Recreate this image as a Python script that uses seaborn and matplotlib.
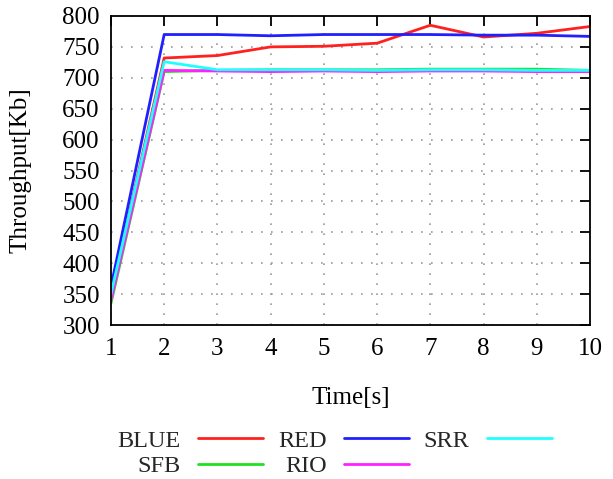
import matplotlib
matplotlib.use("Agg")
import matplotlib.pyplot as plt
import seaborn as sns
import pandas as pd
import numpy as np

time_s = [1, 2, 3, 4, 5, 6, 7, 8, 9, 10]
blue_vals = [350, 732, 736, 750, 751, 756, 785, 766, 772, 783]
red_vals = [362, 770, 770, 768, 770, 770, 770, 769, 769, 767]
srr_vals = [350, 726, 713, 713, 713, 712, 713, 713, 712, 712]
sfb_vals = [335, 710, 712, 713, 713, 713, 714, 714, 714, 712]
rio_vals = [340, 712, 711, 710, 711, 710, 711, 711, 710, 710]

series_names = ["BLUE", "SFB", "RED", "RIO", "SRR"]
series_vals = {"BLUE": blue_vals, "RED": red_vals, "SRR": srr_vals,
               "SFB": sfb_vals, "RIO": rio_vals}
palette = {"BLUE": "#ff2020", "RED": "#2020ff", "SRR": "#20ffff",
           "SFB": "#20e020", "RIO": "#ff20ff"}

rows = []
for name in series_names:
    for t, v in zip(time_s, series_vals[name]):
        rows.append({"Time": t, "Throughput": v, "Series": name})
df = pd.DataFrame(rows)

sns.set_theme(style="white")
plt.rcParams["font.family"] = ["Liberation Serif", "DejaVu Serif"]

fig = plt.figure(figsize=(6.13, 4.79), dpi=100)
ax = fig.add_axes([0.181, 0.3215, 0.7815, 0.6451])

draw_order = ["BLUE", "RED", "SFB", "RIO", "SRR"]
for name in draw_order:
    sub = df[df["Series"] == name]
    sns.lineplot(data=sub, x="Time", y="Throughput", color=palette[name],
                 linewidth=2.0, ax=ax, label=name, legend=False)

ax.set_xlim(1, 10)
ax.set_ylim(300, 800)
ax.set_xticks(time_s)
ax.set_yticks(np.arange(300, 801, 50))
ax.grid(True, color="#999999", linestyle=(0, (1, 5)), linewidth=1.2)
for s in ax.spines.values():
    s.set_color("black")
    s.set_linewidth(1.3)
    s.set_visible(True)
ax.tick_params(direction="in", length=7, width=1.3, top=True, right=True,
               labelsize=18, colors="black")
ax.tick_params(axis="y", pad=8)
ax.tick_params(axis="x", pad=9)
ax.set_xlabel("Time[s]", fontsize=18, labelpad=20, color="black")
ax.set_ylabel("Throughput[Kb]", fontsize=18, labelpad=22, color="black")

handles, labels = ax.get_legend_handles_labels()
hmap = dict(zip(labels, handles))
leg_order = ["BLUE", "SFB", "RED", "RIO", "SRR"]
fig.legend([hmap[n] for n in leg_order], leg_order, ncol=3, markerfirst=False,
           loc="upper left", bbox_to_anchor=(0.156, 0.149), frameon=False,
           fontsize=17.5, handlelength=2.7, handletextpad=0.7,
           columnspacing=0.6, labelspacing=0.15,
           bbox_transform=fig.transFigure)

fig.savefig("out.png", dpi=100)
